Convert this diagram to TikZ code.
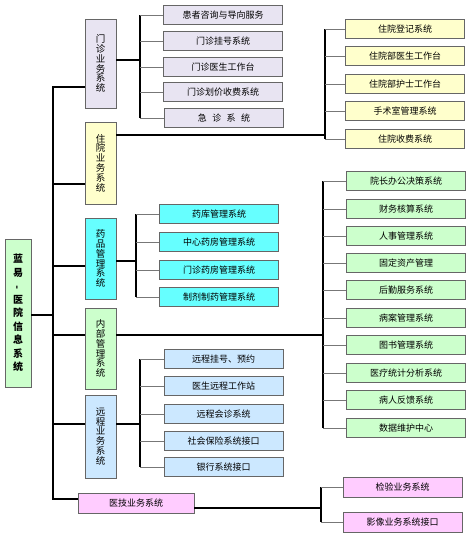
\documentclass[tikz,border=0pt]{standalone}
\usepackage{fontspec}
\newfontfamily\cjk{Noto Sans CJK SC}
\definecolor{boxline}{HTML}{666666}
\definecolor{mzfill}{HTML}{E8E4F2}
\definecolor{zyfill}{HTML}{FFFFCC}
\definecolor{ypfill}{HTML}{66FFFF}
\definecolor{nbfill}{HTML}{CCFFCC}
\definecolor{ycfill}{HTML}{CCE8FF}
\definecolor{yjfill}{HTML}{FFCCFF}
\definecolor{branchgray}{HTML}{777777}
\begin{document}
\begin{tikzpicture}[x=1pt,y=-1pt,
  box/.style={draw=boxline, line width=0.7pt, inner sep=0pt, font=\cjk\fontsize{9}{10}\selectfont},
  leaf/.style={box, minimum width=119pt, minimum height=19.5pt},
  vbox/.style={box, minimum width=31pt, align=center, font=\cjk\fontsize{9.5}{9.8}\selectfont},
  main/.style={line width=1.6pt, line cap=rect},
  bus/.style={line width=1.2pt},
  branch/.style={line width=0.6pt, draw=branchgray}]
\useasboundingbox (0,0) rectangle (470,539);

% root
\node[vbox, fill=nbfill, minimum width=26pt, minimum height=148pt,
      font=\cjk\bfseries\fontsize{10}{13.5}\selectfont] (root) at (18,313)
  {蓝\\易\\\rotatebox[origin=c]{90}{-}\\医\\院\\信\\息\\系\\统};

% level 1
\node[vbox, fill=mzfill, minimum height=89pt] (mz) at (100.5,63.5) {门\\诊\\业\\务\\系\\统};
\node[vbox, fill=zyfill, minimum height=82pt] (zy) at (100.5,163) {住\\院\\业\\务\\系\\统};
\node[vbox, fill=ypfill, minimum height=81pt] (yp) at (100.5,258.5) {药\\品\\管\\理\\系\\统};
\node[vbox, fill=nbfill, minimum height=81pt] (nb) at (100.5,348.5) {内\\部\\管\\理\\系\\统};
\node[vbox, fill=ycfill, minimum height=83pt] (yc) at (100.5,436.5) {远\\程\\业\\务\\系\\统};
\node[box, fill=yjfill, minimum width=116pt, minimum height=20pt] (yj) at (136,503) {医技业务系统};

% outpatient children
\node[leaf, fill=mzfill] (m1) at (223,15) {患者咨询与导向服务};
\node[leaf, fill=mzfill] (m2) at (223,41) {门诊挂号系统};
\node[leaf, fill=mzfill] (m3) at (223,67) {门诊医生工作台};
\node[leaf, fill=mzfill] (m4) at (223,92) {门诊划价收费系统};
\node[leaf, fill=mzfill] (m5) at (224,118) {急\hspace{0.6em}诊\hspace{0.6em}系\hspace{0.6em}统};

% inpatient children
\node[leaf, fill=zyfill] (z1) at (405,29) {住院登记系统};
\node[leaf, fill=zyfill] (z2) at (405,56) {住院部医生工作台};
\node[leaf, fill=zyfill] (z3) at (405,84) {住院部护士工作台};
\node[leaf, fill=zyfill] (z4) at (405,111) {手术室管理系统};
\node[leaf, fill=zyfill] (z5) at (405,139) {住院收费系统};

% pharmacy children
\node[leaf, fill=ypfill] (p1) at (219,214) {药库管理系统};
\node[leaf, fill=ypfill] (p2) at (219,242) {中心药房管理系统};
\node[leaf, fill=ypfill] (p3) at (219,270) {门诊药房管理系统};
\node[leaf, fill=ypfill] (p4) at (219,297) {制剂制药管理系统};

% internal management children
\node[leaf, fill=nbfill] (n1) at (406,181) {院长办公决策系统};
\node[leaf, fill=nbfill] (n2) at (406,209) {财务核算系统};
\node[leaf, fill=nbfill] (n3) at (406,236) {人事管理系统};
\node[leaf, fill=nbfill] (n4) at (406,263) {固定资产管理};
\node[leaf, fill=nbfill] (n5) at (406,290) {后勤服务系统};
\node[leaf, fill=nbfill] (n6) at (406,318) {病案管理系统};
\node[leaf, fill=nbfill] (n7) at (406,345) {图书管理系统};
\node[leaf, fill=nbfill] (n8) at (406,373) {医疗统计分析系统};
\node[leaf, fill=nbfill] (n9) at (406,400) {病人反馈系统};
\node[leaf, fill=nbfill] (n10) at (406,428) {数据维护中心};

% remote children
\node[leaf, fill=ycfill] (r1) at (223.5,359) {远程挂号、预约};
\node[leaf, fill=ycfill] (r2) at (223.5,386) {医生远程工作站};
\node[leaf, fill=ycfill] (r3) at (223.5,414) {远程会诊系统};
\node[leaf, fill=ycfill] (r4) at (223.5,441) {社会保险系统接口};
\node[leaf, fill=ycfill] (r5) at (223.5,467) {银行系统接口};

% medical technology children
\node[leaf, fill=yjfill, minimum height=20pt] (t1) at (402.5,487) {检验业务系统};
\node[leaf, fill=yjfill, minimum height=20pt] (t2) at (402.5,522) {影像业务系统接口};

% trunk
\coordinate (j0) at (53,315);
\coordinate (j1) at (53,87);
\coordinate (j2) at (53,184);
\coordinate (j3) at (53,266);
\coordinate (j4) at (53,335);
\coordinate (j5) at (53,424);
\coordinate (j6) at (53,499);
\draw[main] (j1) -- (j6);
\draw[main] (root.east |- j0) -- (j0);
\draw[main] (j1) -- (mz.west |- j1);
\draw[main] (j2) -- (zy.west |- j2);
\draw[main] (j3) -- (yp.west |- j3);
\draw[main] (j4) -- (nb.west |- j4);
\draw[main] (j5) -- (yc.west |- j5);
\draw[main] (j6) -- (yj.west |- j6);

% buses
\coordinate (b1) at (140,60);
\coordinate (b2) at (325,135);
\coordinate (b3) at (136,261);
\coordinate (b4) at (323,335);
\coordinate (b5) at (140,424);
\coordinate (b6) at (321,508);
\draw[main] (mz.east |- b1) -- (b1);
\draw[main] (zy.east |- b2) -- (b2);
\draw[main] (yp.east |- b3) -- (b3);
\draw[main] (nb.east |- b4) -- (b4);
\draw[main] (yc.east |- b5) -- (b5);
\draw[main] (yj.east |- b6) -- (b6);

\draw[bus] (b1 |- m1.west) -- (b1 |- m5.west);
\draw[bus] (b2 |- z1.west) -- (b2 |- z5.west);
\draw[bus] (b3 |- p1.west) -- (b3 |- p4.west);
\draw[bus] (b4 |- n1.west) -- (b4 |- n10.west);
\draw[bus] (b5 |- r1.west) -- (b5 |- r5.west);
\draw[bus] (b6 |- t1.west) -- (b6 |- t2.west);

\foreach \i in {1,...,5} \draw[branch] (b1 |- m\i.west) -- (m\i.west);
\foreach \i in {1,...,5} \draw[branch] (b2 |- z\i.west) -- (z\i.west);
\foreach \i in {1,...,4} \draw[branch] (b3 |- p\i.west) -- (p\i.west);
\foreach \i in {1,...,10} \draw[branch] (b4 |- n\i.west) -- (n\i.west);
\foreach \i in {1,...,5} \draw[branch] (b5 |- r\i.west) -- (r\i.west);
\foreach \i in {1,2} \draw[branch] (b6 |- t\i.west) -- (t\i.west);
\end{tikzpicture}
\end{document}
